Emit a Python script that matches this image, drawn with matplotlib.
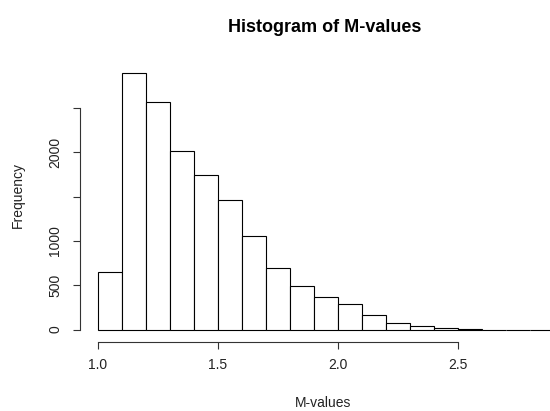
import matplotlib
matplotlib.use("Agg")
import matplotlib.pyplot as plt

# histogram of M-values, bins of width 0.1 starting at 1.0
bin_starts = [1.0, 1.1, 1.2, 1.3, 1.4, 1.5, 1.6, 1.7, 1.8, 1.9,
              2.0, 2.1, 2.2, 2.3, 2.4, 2.5, 2.6, 2.7, 2.8]
counts = [648, 2900, 2576, 2019, 1748, 1465, 1058, 697, 494, 365,
          290, 162, 76, 42, 20, 9, 0, 0, 0]
x_ticks = [1.0, 1.5, 2.0, 2.5]
x_labels = ["1.0", "1.5", "2.0", "2.5"]
y_ticks = [0, 500, 1000, 1500, 2000, 2500]
y_labels = ["0", "500", "1000", "", "2000", ""]

plt.rcParams['font.family'] = ['Liberation Sans', 'DejaVu Sans']

fig = plt.figure(figsize=(5.5, 4.11), dpi=100)
ax = fig.add_axes([90 / 550, (411 - 329.5) / 411, 460 / 550, 269.5 / 411])

ax.bar(bin_starts, counts, width=0.1, align='edge', color='white',
       edgecolor='black', linewidth=0.8, clip_on=False)

ax.set_xlim(0.96875, 2.8854)
ax.set_ylim(0, 3045)

for s in ['top', 'right']:
    ax.spines[s].set_visible(False)
ax.spines['bottom'].set_position(('outward', 8.8))
ax.spines['left'].set_position(('outward', 7.2))
ax.spines['bottom'].set_bounds(1.0, 2.5)
ax.spines['left'].set_bounds(0, 2500)
for s in ['bottom', 'left']:
    ax.spines[s].set_linewidth(0.8)
    ax.spines[s].set_color('#333333')

ax.set_xticks(x_ticks)
ax.set_xticklabels(x_labels)
ax.set_yticks(y_ticks)
ax.set_yticklabels(y_labels, rotation=90, va='center')
ax.tick_params(direction='out', length=4.8, width=0.8, colors='#333333',
               labelsize=10, labelcolor='#222222')
ax.tick_params(axis='x', pad=7)
ax.tick_params(axis='y', pad=8)

fig.text(325 / 550, 1 - 27 / 411, "Histogram of M-values", ha='center',
         va='center', fontsize=13, fontweight='bold')
fig.text(323 / 550, 1 - 403 / 411, "M-values", ha='center', va='center',
         fontsize=10, color='#222222')
fig.text(18 / 550, 1 - 195 / 411, "Frequency", ha='center', va='center',
         rotation=90, fontsize=10, color='#222222')

fig.savefig("out.png", dpi=100)
